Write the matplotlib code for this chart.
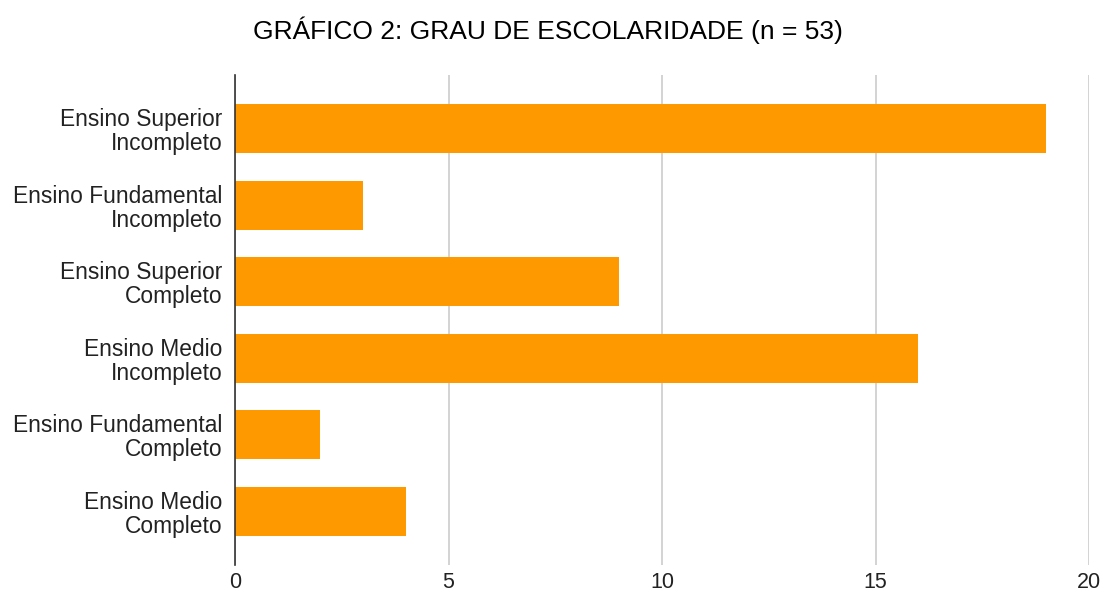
import matplotlib.pyplot as plt

plt.rcParams['font.family'] = ['Liberation Sans', 'DejaVu Sans']

categories = ["Ensino Superior\nIncompleto", "Ensino Fundamental\nIncompleto",
              "Ensino Superior\nCompleto", "Ensino Medio\nIncompleto",
              "Ensino Fundamental\nCompleto", "Ensino Medio\nCompleto"]
values = [19, 3, 9, 16, 2, 4]
ticks = [0, 5, 10, 15, 20]

fig = plt.figure(figsize=(11.04, 5.96), dpi=100)
ax = fig.add_axes([235/1104, 1 - 565/596, (1089-235)/1104, 490/596])

ax.barh(range(len(values)), values, height=0.64, color='#ff9900', zorder=3)
ax.set_ylim(len(values) - 1 + 0.7, -0.7)
ax.set_xlim(0, 20)
ax.set_xticks(ticks)
ax.set_yticks(range(len(values)))
ax.set_yticklabels(categories, fontsize=16.4, color='#222222', linespacing=1.05)
ax.tick_params(axis='x', labelsize=15.5, colors='#222222', length=0, pad=5)
ax.tick_params(axis='y', length=0, pad=9)
ax.grid(axis='x', color='#cccccc', linewidth=1.2, zorder=0)
for s in ['top', 'right', 'bottom']:
    ax.spines[s].set_visible(False)
ax.spines['left'].set_color('#333333')
ax.spines['left'].set_linewidth(1.2)
ax.spines['left'].set_zorder(4)

fig.text(548/1104, 1 - 30/596, "GRÁFICO 2: GRAU DE ESCOLARIDADE (n = 53)",
         ha='center', va='center', fontsize=19, color='#000000')

fig.savefig('out.png', dpi=100)
